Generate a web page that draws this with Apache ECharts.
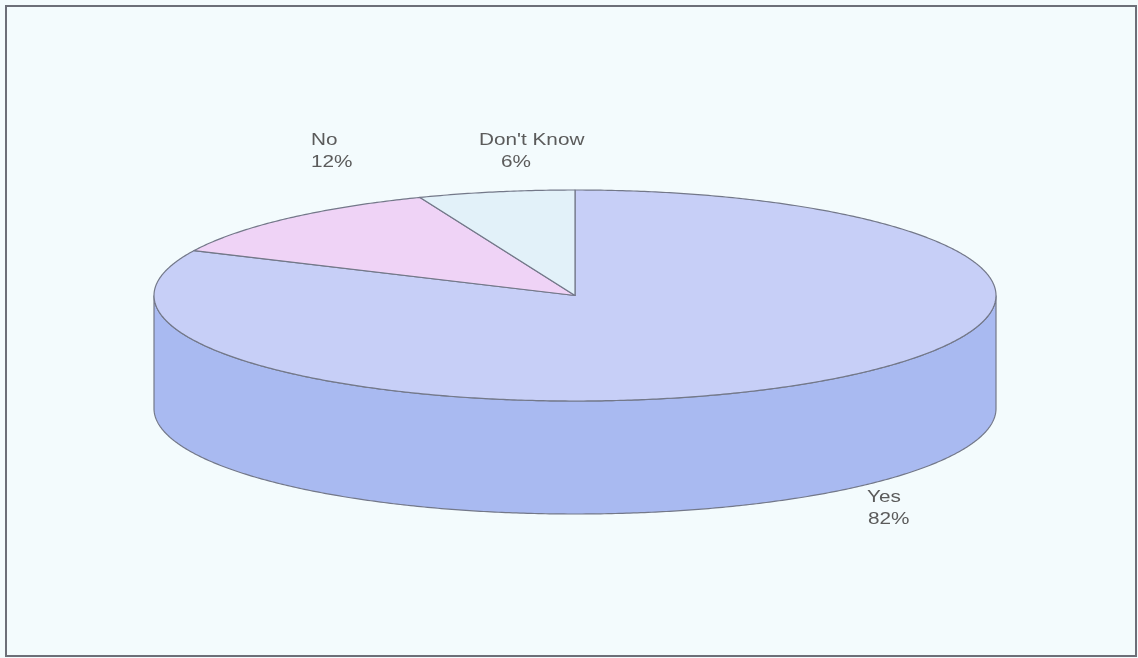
<!DOCTYPE html>
<html>
<head>
<meta charset="utf-8">
<title>Survey response pie</title>
<script src="https://cdn.jsdelivr.net/npm/echarts@6/dist/echarts.min.js"></script>
<style>
  html, body { margin: 0; padding: 0; background: #f3fbfd; }
  #chart { width: 1138px; height: 658px; }
</style>
</head>
<body>
<div id="chart"></div>
<script>
// Answers and their share of respondents (percent)
const categories = ['Yes', 'No', "Don't Know"];
const shares = [82, 12, 6];

// Fill colours: lid of each slice and its curved wall
const lidColors = ['#c7cff7', '#efd3f6', '#e2f1f9'];
const wallColors = ['#a9baf1', '#d8b2e6', '#c6deea'];

// Pie geometry (ellipse centre, radii, wall height)
const geo = { cx: 575, cy: 295.5, rx: 421, ry: 105.5, depth: 113 };
const edge = '#737889';

// Label placement for each slice: name line and value line (left, top)
const labelSpots = [
  { name: [867, 489], value: [868, 511] },
  { name: [311, 132], value: [311, 154] },
  { name: [479, 132], value: [501, 154] }
];

const total = shares.reduce((a, b) => a + b, 0);
const starts = [];
shares.reduce((acc, v, i) => { starts[i] = acc; return acc + v; }, 0);

// angle measured clockwise from 12 o'clock, in degrees
function rim(deg, drop) {
  const r = deg * Math.PI / 180;
  return [geo.cx + geo.rx * Math.sin(r), geo.cy - geo.ry * Math.cos(r) + (drop || 0)];
}
function arc(a, b, drop) {
  const pts = [];
  const n = Math.max(2, Math.ceil(Math.abs(b - a) / 0.5));
  for (let k = 0; k <= n; k++) pts.push(rim(a + (b - a) * k / n, drop));
  return pts;
}

const chart = echarts.init(document.getElementById('chart'), null, { renderer: 'canvas' });

function walls(params) {
  const i = params.dataIndex;
  const a0 = starts[i] / total * 360;
  const a1 = (starts[i] + shares[i]) / total * 360;
  // only the front half of the rim (90..270 deg) faces the viewer
  const lo = Math.max(a0, 90), hi = Math.min(a1, 270);
  if (hi <= lo) return { type: 'group', children: [] };
  const pts = arc(lo, hi, 0).concat(arc(hi, lo, geo.depth));
  return {
    type: 'polygon',
    shape: { points: pts },
    style: { fill: wallColors[i], stroke: edge, lineWidth: 1.2 }
  };
}

function lids(params) {
  const i = params.dataIndex;
  const a0 = starts[i] / total * 360;
  const a1 = (starts[i] + shares[i]) / total * 360;
  const pts = [[geo.cx, geo.cy]].concat(arc(a0, a1, 0));
  const pct = Math.round(shares[i] / total * 100) + '%';
  const spot = labelSpots[i];
  const txt = (s, p) => ({
    type: 'text',
    x: p[0], y: p[1], scaleX: 1.22,
    style: {
      text: s, x: 0, y: 0,
      fill: '#5b5b5b',
      font: '17px "Liberation Sans", Arial, sans-serif',
      textAlign: 'left', textVerticalAlign: 'top'
    }
  });
  return {
    type: 'group',
    children: [
      {
        type: 'polygon',
        shape: { points: pts },
        style: { fill: lidColors[i], stroke: edge, lineWidth: 1.2, lineJoin: 'round' }
      },
      txt(categories[i], spot.name),
      txt(pct, spot.value)
    ]
  };
}

chart.setOption({
  backgroundColor: '#f3fbfd',
  animation: false,
  graphic: [{
    type: 'rect',
    shape: { x: 6, y: 6, width: 1130, height: 650 },
    style: { fill: 'none', stroke: '#6c6f78', lineWidth: 2 },
    z: 10
  }],
  series: [
    {
      type: 'custom',
      coordinateSystem: 'none',
      renderItem: walls,
      data: shares,
      z: 1
    },
    {
      type: 'custom',
      coordinateSystem: 'none',
      renderItem: lids,
      data: shares,
      z: 2
    }
  ]
});
</script>
</body>
</html>
